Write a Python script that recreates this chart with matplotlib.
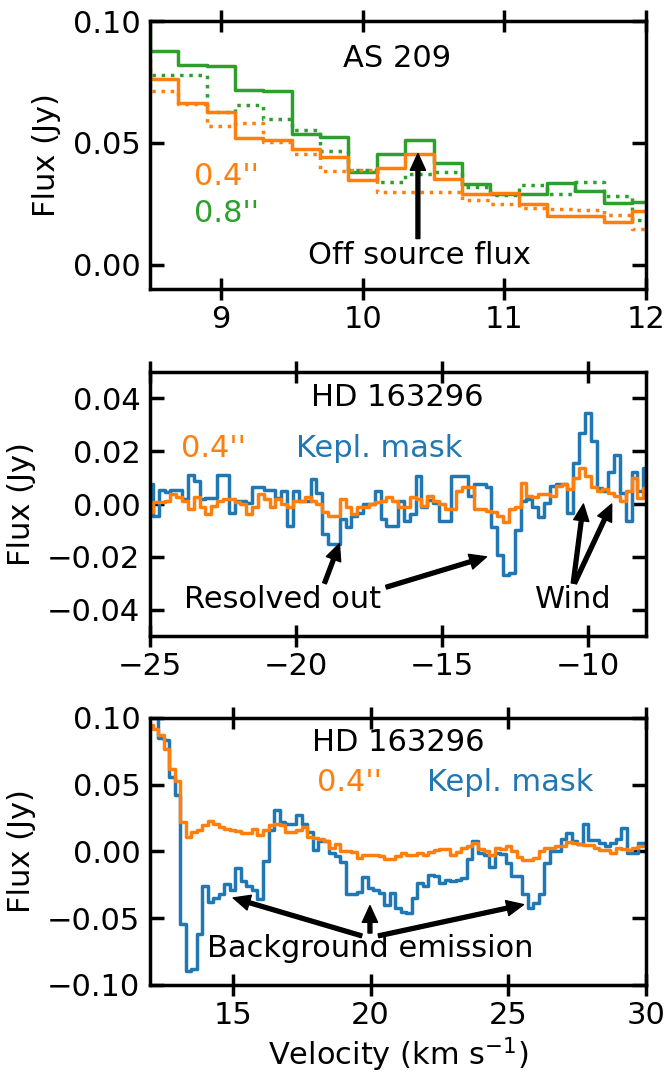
import matplotlib
matplotlib.use('Agg')
import matplotlib.pyplot as plt
import numpy as np

ORANGE = '#ff7f0e'
GREEN = '#2ca02c'
BLUE = '#1f77b4'
FS = 22

# ── AS 209 (0.2 km/s channels, Jy) ────────────────────────────────────────────
v_as = np.round(8.4 + 0.2 * np.arange(20), 2)
as_08 = [0.110, 0.0877, 0.0818, 0.0814, 0.0718, 0.0713, 0.0538, 0.0524, 0.0380, 0.0453,
         0.0510, 0.0417, 0.0332, 0.0291, 0.0291, 0.0335, 0.0302, 0.0254, 0.0257, 0.0257]
as_08_off = [0.090, 0.0777, 0.0777, 0.0627, 0.0657, 0.0599, 0.0551, 0.0466, 0.0387, 0.0339,
             0.0373, 0.0380, 0.0319, 0.0285, 0.0326, 0.0291, 0.0339, 0.0280, 0.0182, 0.0182]
as_04 = [0.083, 0.0761, 0.0663, 0.0627, 0.0521, 0.0510, 0.0476, 0.0442, 0.0346, 0.0398,
         0.0453, 0.0353, 0.0289, 0.0295, 0.0250, 0.0198, 0.0198, 0.0175, 0.0220, 0.0220]
as_04_off = [0.080, 0.0713, 0.0661, 0.0568, 0.0581, 0.0503, 0.0453, 0.0384, 0.0387, 0.0298,
             0.0298, 0.0298, 0.0267, 0.0248, 0.0234, 0.0230, 0.0226, 0.0202, 0.0148, 0.0148]

# ── HD 163296, blue-shifted side (mJy) ────────────────────────────────────────
v_hd1 = np.round(-25 + 0.2 * np.arange(86), 2)
hd1_kepl = [7.4, -4.5, 5.2, 4.5, 5.5, 5.5, 1.8, 10.9, 8.7, 2.0,
            2.4, 2.4, 10.9, 10.9, -3.3, 1.1, 1.1, 0.5, 6.4, 6.4,
            5.2, 5.5, 2.4, 4.9, -8.3, 4.9, 1.1, 1.1, 9.3, 4.0,
            -11.3, -15.0, -15.0, -5.7, -8.8, -4.5, -3.5, 0.0, 0.0, 4.9,
            -5.7, -8.2, -8.2, 1.1, -6.3, -3.8, 10.5, -1.3, 1.7, 0.5,
            -6.3, -6.3, 10.5, 10.5, 10.5, 3.0, 7.5, 7.5, 6.4, -8.6,
            -19.4, -27.0, -26.0, -10.0, 1.0, 2.0, -1.0, -5.0, 0.5, 7.0,
            7.4, 7.4, -3.3, 15.5, 26.8, 34.3, 23.7, 6.0, 5.0, 12.3,
            18.6, 4.2, -6.4, 12.3, 4.9, 13.6]
hd1_04 = [-3.1, 0.6, 0.6, 1.3, 3.8, 2.5, 1.3, -1.9, 2.5, -1.3,
          -3.8, -0.6, 1.3, 1.9, 1.9, 0.6, 0.0, -3.8, -1.3, 3.8,
          1.9, -1.3, 1.9, 0.0, -1.3, 1.3, 1.3, 2.5, 1.3, 0.0,
          -3.1, -4.4, -4.4, 1.9, -1.3, -3.8, -1.3, -1.3, 0.0, 0.6,
          1.3, 2.5, 1.3, -1.3, -1.3, 2.5, 1.9, -0.6, 3.1, 1.3,
          0.0, -1.9, -1.9, 5.0, 6.3, 6.3, -1.9, -1.9, -2.5, -3.1,
          -4.4, -6.9, -1.9, -1.3, 8.1, 3.1, 2.5, 3.8, 3.8, 3.1,
          6.9, 7.5, 5.6, 10.0, 13.8, 10.5, 6.4, 5.1, 5.8, 4.2,
          3.0, 1.1, 5.1, 9.8, 2.4, 6.0]

# ── HD 163296, red-shifted side (mJy) ─────────────────────────────────────────
v_hd2 = np.round(12 + 0.2 * np.arange(91), 2)
hd2_kepl = [105, 102, 84.7, 83.5, 56, 42.6, -54, -89.5, -88, -62,
            -25.6, -38, -35, -32, -24, -28.6, -12.5, -21.8, -25.6, -29,
            -35.6, -6.8, 15.8, 30.8, 22, 20.8, 20.8, 27, 20.8, 14.5,
            1, 7.8, 7.8, -1, -3.5, -8, -32, -32, -30, -19,
            -27, -28.6, -31, -40, -31, -42, -45, -46, -35, -23.6,
            -26, -17.3, -18.5, -23.6, -21, -22.3, -21, -20, -6, 7.8,
            -1, -3, -11.5, -1, -2, -8.5, -18.5, -18.5, -32, -42,
            -38.6, -32, -8.5, 0.3, 0.3, 9, 14, 7.8, 5.3, 20.3,
            8.3, 8.3, 6.5, 4, 6.5, 9, 17.8, -1, -1, 6.5, 6.5]
hd2_04 = [95, 92, 87, 77, 62, 53, 22, 10.8, 14.5, 15.8,
          19.5, 23, 20.8, 18.3, 17, 15.8, 15.4, 14, 14, 17,
          12, 15.8, 19.5, 20.8, 20, 14.5, 14.5, 15.8, 18.3, 10.8,
          10, 9.5, 7.8, 2.8, 5.3, 0.25, 0.25, -0.5, -4.8, -2.3,
          -3, -3, -3.5, -5.5, -6, -3.5, -1.5, -2.3, -2.3, -1,
          -2.3, -0.5, 1, 2, 2, -2.3, -0.5, 2.8, 4, 6.5,
          1.5, 0.3, -2.3, 2.8, 1.5, 4, 0.3, -4, -6.5, -6.5,
          -4.8, 0.3, 2.8, 2.8, 4, 4, 7, 6, 5.3, 4.5,
          4.5, 2.8, 1, 1, -1.5, 2.8, 1.5, 1, 2.8, 4, 4]

plt.rcParams['font.family'] = 'DejaVu Sans'
plt.rcParams['font.size'] = FS

fig = plt.figure(figsize=(6.66, 10.74), dpi=100)
ax1 = fig.add_axes([0.2252, 0.7309, 0.745, 0.2495])
ax2 = fig.add_axes([0.2252, 0.4078, 0.745, 0.2458])
ax3 = fig.add_axes([0.2252, 0.0829, 0.745, 0.2486])

LW = 2.5
arrow = dict(facecolor='black', edgecolor='black', width=2.8, headwidth=11,
             headlength=12, shrink=0)

# panel 1
ax1.step(v_as, as_08, where='mid', color=GREEN, lw=LW)
ax1.step(v_as, as_08_off, where='mid', color=GREEN, lw=LW, ls=':')
ax1.step(v_as, as_04, where='mid', color=ORANGE, lw=LW)
ax1.step(v_as, as_04_off, where='mid', color=ORANGE, lw=LW, ls=':')
ax1.set_xlim(8.5, 12)
ax1.set_ylim(-0.01, 0.10)
ax1.set_xticks([9, 10, 11, 12])
ax1.set_yticks([0.0, 0.05, 0.10])
ax1.text(10.24, 0.0845, 'AS 209', ha='center', va='center')
ax1.text(8.81, 0.036, "0.4''", color=ORANGE, ha='left', va='center')
ax1.text(8.81, 0.021, "0.8''", color=GREEN, ha='left', va='center')
ax1.annotate('', xy=(10.39, 0.0456), xytext=(10.39, 0.0107), arrowprops=arrow)
ax1.text(10.40, 0.0038, 'Off source flux', ha='center', va='center')

# panel 2
ax2.step(v_hd1, np.array(hd1_kepl) / 1000, where='mid', color=BLUE, lw=LW)
ax2.step(v_hd1, np.array(hd1_04) / 1000, where='mid', color=ORANGE, lw=LW)
ax2.set_xlim(-25, -8)
ax2.set_ylim(-0.05, 0.05)
ax2.set_xticks([-25, -20, -15, -10])
ax2.set_yticks([-0.04, -0.02, 0.0, 0.02, 0.04])
ax2.text(-16.52, 0.0404, 'HD 163296', ha='center', va='center')
ax2.text(-23.95, 0.0209, "0.4''", color=ORANGE, ha='left', va='center')
ax2.text(-20.0, 0.0209, 'Kepl. mask', color=BLUE, ha='left', va='center')
ax2.annotate('', xy=(-18.51, -0.015), xytext=(-19.02, -0.030), arrowprops=arrow)
ax2.annotate('', xy=(-13.47, -0.020), xytext=(-16.91, -0.0315), arrowprops=arrow)
ax2.text(-20.47, -0.0363, 'Resolved out', ha='center', va='center')
ax2.annotate('', xy=(-10.15, 0.0), xytext=(-10.50, -0.030), arrowprops=arrow)
ax2.annotate('', xy=(-9.18, 0.0), xytext=(-10.45, -0.030), arrowprops=arrow)
ax2.text(-10.5, -0.0363, 'Wind', ha='center', va='center')

# panel 3
ax3.step(v_hd2, np.array(hd2_kepl) / 1000, where='mid', color=BLUE, lw=LW)
ax3.step(v_hd2, np.array(hd2_04) / 1000, where='mid', color=ORANGE, lw=LW)
ax3.set_xlim(12, 30)
ax3.set_ylim(-0.1, 0.1)
ax3.set_xticks([15, 20, 25, 30])
ax3.set_yticks([-0.10, -0.05, 0.0, 0.05, 0.10])
ax3.text(21.01, 0.0817, 'HD 163296', ha='center', va='center')
ax3.text(18.05, 0.0516, "0.4''", color=ORANGE, ha='left', va='center')
ax3.text(22.04, 0.0516, 'Kepl. mask', color=BLUE, ha='left', va='center')
ax3.annotate('', xy=(15.02, -0.0348), xytext=(19.68, -0.0632), arrowprops=arrow)
ax3.annotate('', xy=(19.98, -0.0406), xytext=(19.98, -0.0611), arrowprops=arrow)
ax3.annotate('', xy=(25.55, -0.0398), xytext=(20.29, -0.0632), arrowprops=arrow)
ax3.text(19.98, -0.0724, 'Background emission', ha='center', va='center')
ax3.set_xlabel('Velocity (km s$^{-1}$)')

for ax in (ax1, ax2, ax3):
    ax.set_ylabel('Flux (Jy)', labelpad=8)
    for sp in ax.spines.values():
        sp.set_linewidth(2.5)
    ax.tick_params(axis='x', direction='inout', length=16, width=2.5,
                   top=True, labelsize=FS)
    ax.tick_params(axis='y', direction='in', length=10, width=2.5,
                   right=True, labelsize=FS, pad=7)

plt.savefig('out.png', dpi=100)
